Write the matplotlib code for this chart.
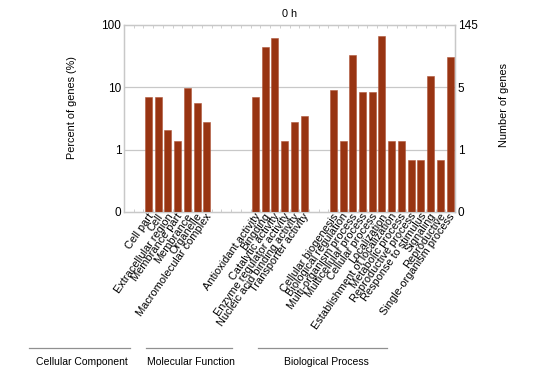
import matplotlib
matplotlib.use("Agg")
import matplotlib.pyplot as plt
from matplotlib.lines import Line2D

plt.rcParams['font.family'] = ['Liberation Sans', 'DejaVu Sans']

total_genes = 145

cc_terms = ["Cell part", "Cell", "Extracellular region", "Membrance part",
            "Membrance", "Organelle", "Macromolecular complex"]
cc_counts = [10, 10, 3, 2, 14, 8, 4]

mf_terms = ["Antioxidant activity", "Bingding", "Catalytic activity",
            "Enzyme regulator activity", "Nucleic acid binding activity",
            "Transporter activity"]
mf_counts = [10, 64, 90, 2, 4, 5]

bp_terms = ["Cellular biogenesis", "Biological regulation",
            "Multi-organism process", "Multicellular process",
            "Cellular process", "Localization",
            "Establishment of localization", "Metabolic process",
            "Reproductive process", "Response to stimulus", "Signaling",
            "Reproductive", "Single-organism process"]
bp_counts = [13, 2, 47, 12, 12, 95, 2, 2, 1, 1, 22, 1, 45]

group_names = ["Cellular Component", "Molecular Function", "Biological Process"]

left_ticks = [0.1, 1, 10, 100]
left_labels = ["0", "1", "10", "100"]
right_labels = ["0", "1", "5", "145"]

bar_color = "#983412"
grid_color = "#c8c8c8"

# slot layout: empty slots before each group
gaps = [2, 4, 2]
groups = [(cc_terms, cc_counts), (mf_terms, mf_counts), (bp_terms, bp_counts)]
xs = []
names = []
pcts = []
slot = 0
for gap, (terms, counts) in zip(gaps, groups):
    slot += gap
    for t, c in zip(terms, counts):
        xs.append(slot + 0.5)
        names.append(t)
        pcts.append(c / total_genes * 100)
        slot += 1
n_slots = slot

fig = plt.figure(figsize=(5.4, 3.78), dpi=100)
ax = fig.add_axes([124 / 540, 1 - 212 / 378, 331 / 540, 187 / 378])

# log axis, "0" sits at 0.1 so bars start there
ax.set_yscale('log')
ax.bar(xs, [p - 0.1 for p in pcts], width=0.72, color=bar_color,
       edgecolor="#b0553a", linewidth=0.4, bottom=0.1, zorder=3)
ax.set_ylim(0.1, 100)
ax.set_xlim(0, n_slots)

ax.set_yticks(left_ticks)
ax.set_yticklabels(left_labels, fontsize=8.5)
ax.yaxis.set_minor_locator(plt.NullLocator())
ax.tick_params(axis='y', length=0, pad=2)
for v in [1, 10]:
    ax.axhline(v, color=grid_color, lw=0.9, zorder=1)

ax.set_xticks(range(n_slots + 1))
ax.set_xticklabels([])
ax.tick_params(axis='x', direction='in', length=2, color=grid_color,
               top=True, bottom=True, width=0.6)
for s in ax.spines.values():
    s.set_color(grid_color)
    s.set_linewidth(1.0)

for x, name in zip(xs, names):
    ax.text(x + 0.3, 0.092, name, rotation=55, rotation_mode='anchor',
            ha='right', va='center', fontsize=7.9)

ax2 = ax.twinx()
ax2.set_yscale('log')
ax2.set_ylim(0.1, 100)
ax2.set_yticks(left_ticks)
ax2.set_yticklabels(right_labels, fontsize=8.5)
ax2.yaxis.set_minor_locator(plt.NullLocator())
ax2.tick_params(axis='y', length=0, pad=2)
for s in ax2.spines.values():
    s.set_color(grid_color)

ax.set_title("0 h", fontsize=7.8, pad=6)
fig.text(72 / 540, 1 - 108 / 378, "Percent of genes (%)", rotation=90,
         ha='center', va='center', fontsize=7.8)
fig.text(504 / 540, 1 - 105 / 378, "Number of genes", rotation=90,
         ha='center', va='center', fontsize=7.8)

# group brackets under the labels
line_spans = [(29, 130), (146, 232), (258, 387)]
label_x = [82, 191, 326]
for (x0, x1), lx, g in zip(line_spans, label_x, group_names):
    fig.add_artist(Line2D([x0 / 540, x1 / 540], [1 - 348 / 378, 1 - 348 / 378],
                          color="#909090", lw=0.9))
    fig.text(lx / 540, 1 - 362 / 378, g, ha='center', va='center', fontsize=7.5)

fig.savefig("out.png", dpi=100)
